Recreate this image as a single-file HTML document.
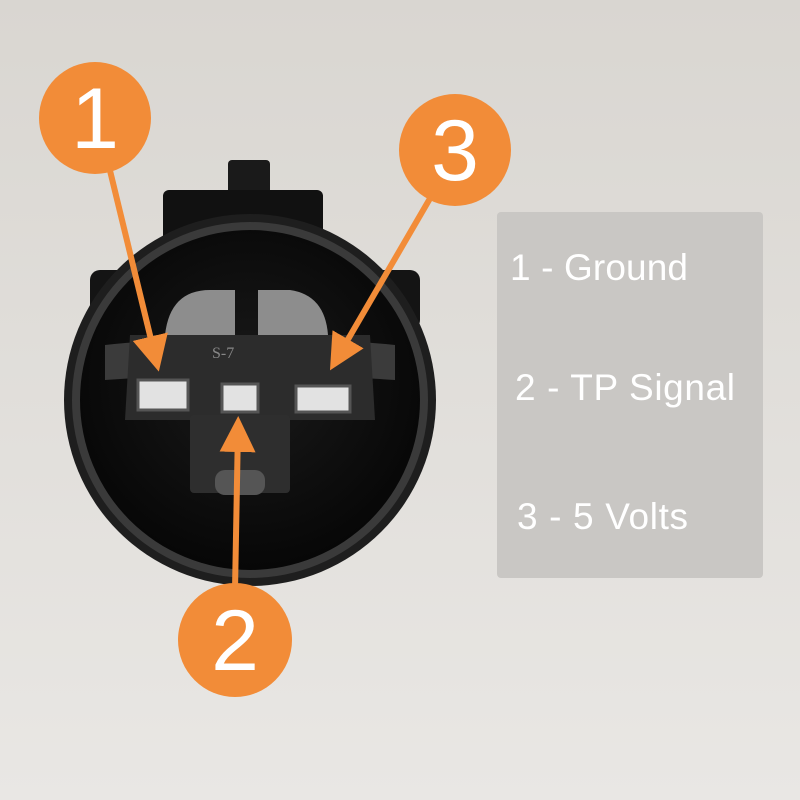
<!DOCTYPE html>
<html><head><meta charset="utf-8"><style>
html,body{margin:0;padding:0;width:800px;height:800px;overflow:hidden}
body{background:linear-gradient(#d9d6d1,#e9e7e4)}
</style></head><body>
<svg width="800" height="800" viewBox="0 0 800 800" xmlns="http://www.w3.org/2000/svg">
<defs>
<radialGradient id="g1" cx="0.5" cy="0.45" r="0.6"><stop offset="0" stop-color="#1a1a1a"/><stop offset="1" stop-color="#050505"/></radialGradient>
<marker id="ah" markerWidth="6" markerHeight="6" refX="4" refY="3" orient="auto" markerUnits="strokeWidth"><path d="M0,0 L6,3 L0,6 Z" fill="#f28c38"/></marker>
</defs>
<rect x="228" y="160" width="42" height="35" rx="4" fill="#1a1a1a"/>
<rect x="163" y="190" width="160" height="55" rx="6" fill="#111"/>
<rect x="90" y="270" width="330" height="60" rx="10" fill="#141414"/>
<circle cx="250" cy="400" r="186" fill="#1e1e1e"/>
<circle cx="250" cy="400" r="178" fill="#3a3a3a"/>
<circle cx="250" cy="400" r="170" fill="url(#g1)"/>
<path d="M105,345 Q250,330 395,345 L395,380 Q250,370 105,380 Z" fill="#3b3b3b"/>
<path d="M130,335 L370,335 L375,420 L125,420 Z" fill="#2c2c2c"/>
<text x="212" y="358" font-family="Liberation Serif,serif" font-size="16" fill="#888">S-7</text>
<path d="M165,335 Q170,290 210,290 L235,290 L235,335 Z" fill="#8d8d8d"/>
<path d="M258,290 L290,290 Q325,295 328,335 L258,335 Z" fill="#8d8d8d"/>
<rect x="138" y="380" width="50" height="30" fill="#e2e2e2" stroke="#555" stroke-width="3"/>
<rect x="222" y="384" width="36" height="28" fill="#e2e2e2" stroke="#555" stroke-width="3"/>
<rect x="296" y="386" width="54" height="26" fill="#e2e2e2" stroke="#555" stroke-width="3"/>
<rect x="190" y="415" width="100" height="78" rx="4" fill="#2e2e2e"/>
<rect x="215" y="470" width="50" height="25" rx="10" fill="#555"/>
<g stroke="#f28c38" stroke-width="6" fill="none">
<line x1="105" y1="150" x2="156" y2="360" marker-end="url(#ah)"/>
<line x1="432" y1="195" x2="336" y2="360" marker-end="url(#ah)"/>
<line x1="235" y1="590" x2="238" y2="428" marker-end="url(#ah)"/>
</g>
<g font-family="Liberation Sans,sans-serif" font-size="86" fill="#fff" text-anchor="middle">
<circle cx="95" cy="118" r="56" fill="#f28c38"/><text x="95" y="148">1</text>
<circle cx="455" cy="150" r="56" fill="#f28c38"/><text x="455" y="180">3</text>
<circle cx="235" cy="640" r="57" fill="#f28c38"/><text x="235" y="670">2</text>
</g>
<rect x="497" y="212" width="266" height="366" rx="4" fill="#c9c7c4"/>
<g font-family="Liberation Sans,sans-serif" font-size="37" fill="#fff">
<text x="510" y="280" textLength="178">1 - Ground</text>
<text x="515" y="400" textLength="220">2 - TP Signal</text>
<text x="517" y="529" textLength="171">3 - 5 Volts</text>
</g>
</svg>
</body></html>
